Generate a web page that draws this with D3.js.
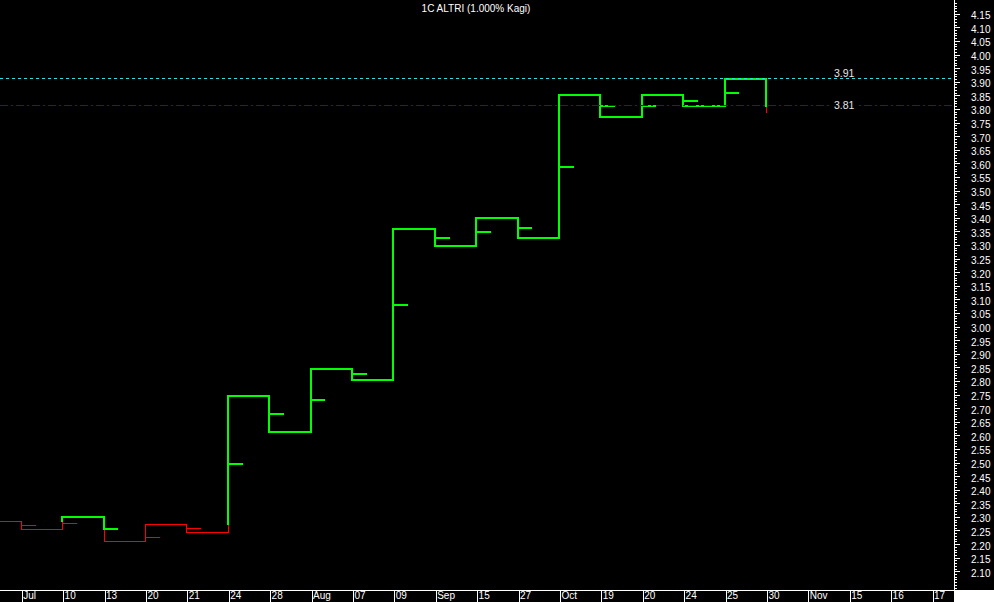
<!DOCTYPE html>
<html>
<head>
<meta charset="utf-8">
<script src="https://cdn.jsdelivr.net/npm/d3@7/dist/d3.min.js"></script>
<style>
  html, body { margin: 0; padding: 0; background: #000; }
  svg { display: block; }
  text { font-family: "Liberation Sans", Arial, sans-serif; }
</style>
</head>
<body>
<script>
// ---------------- data ----------------
const chartTitle = "1C ALTRI (1.000% Kagi)";
const xLabels = ["Jul","10","13","20","21","24","28","Aug","07","09","Sep","15","27","Oct","19","20","24","25","30","Nov","15","16","17"];
const startLevel = 2.281;
const kagiLevels = [2.252, 2.297, 2.208, 2.270, 2.240, 2.742, 2.610, 2.840, 2.800, 3.355, 3.293, 3.396, 3.322, 3.849, 3.768, 3.849, 3.806, 3.906, 3.786];
const kagiStubs  = [2.265, 2.273, 2.252, 2.221, 2.254, 2.491, 2.676, 2.726, 2.822, 3.075, 3.323, 3.345, 3.358, 3.583, 3.808, 3.808, 3.826, 3.856, null];
const yTickLabels = ["2.10","2.15","2.20","2.25","2.30","2.35","2.40","2.45","2.50","2.55","2.60","2.65","2.70","2.75","2.80","2.85","2.90","2.95","3.00","3.05","3.10","3.15","3.20","3.25","3.30","3.35","3.40","3.45","3.50","3.55","3.60","3.65","3.70","3.75","3.80","3.85","3.90","3.95","4.00","4.05","4.10","4.15"];
const refValues = [3.91, 3.81];
const refLabels = ["3.91", "3.81"];

// ---------------- layout ----------------
const W = 994, H = 602;
const axisX = 954, axisY = 590;
const GREEN = "#00ff00", RED = "#ff0000";

const svg = d3.select("body").append("svg")
  .attr("width", W).attr("height", H)
  .style("background", "#000");

const x = d3.scaleLinear().domain([0, xLabels.length - 1]).range([20.7, 931.5]);
const y = d3.scaleLinear().domain([2.10, 4.15]).range([570.3, 12.7]);
const step = x(1) - x(0);

// ---------------- kagi segments ----------------
const segs = [];
const col = s => s === "yang" ? GREEN : RED;
segs.push({x1: x(-0.5), y1: startLevel, x2: x(0), y2: startLevel, c: RED});
let state = "yin";
let prev = startLevel;
kagiLevels.forEach((L, i) => {
  const ref = i >= 2 ? kagiLevels[i - 2] : (i === 1 ? startLevel : null);
  const xi = x(i);
  let split = null;
  if (L > prev) {
    if (state === "yin" && ref !== null && L > ref && ref > prev) {
      segs.push({x1: xi, y1: prev, x2: xi, y2: ref, c: RED});
      segs.push({x1: xi, y1: ref, x2: xi, y2: L, c: GREEN});
      state = "yang"; split = {dir: "up", at: ref};
    } else {
      segs.push({x1: xi, y1: prev, x2: xi, y2: L, c: col(state)});
    }
  } else {
    if (state === "yang" && ref !== null && L < ref && ref < prev) {
      segs.push({x1: xi, y1: prev, x2: xi, y2: ref, c: GREEN});
      segs.push({x1: xi, y1: ref, x2: xi, y2: L, c: RED});
      state = "yin"; split = {dir: "down", at: ref};
    } else {
      segs.push({x1: xi, y1: prev, x2: xi, y2: L, c: col(state)});
    }
  }
  const s = kagiStubs[i];
  if (s !== null) {
    let c = col(state);
    if (split && split.dir === "up") c = s > split.at ? GREEN : RED;
    if (split && split.dir === "down") c = s >= split.at ? GREEN : RED;
    segs.push({x1: xi, y1: s, x2: xi + step / 3, y2: s, c: c});
  }
  if (i < kagiLevels.length - 1) {
    segs.push({x1: xi, y1: L, x2: x(i + 1), y2: L, c: col(state)});
  }
  prev = L;
});

const g = svg.append("g");
g.selectAll("line.red").data(segs.filter(d => d.c === RED)).join("line")
  .attr("class", "red")
  .attr("x1", d => Math.round(d.x1) + 0.5).attr("x2", d => Math.round(d.x2) + 0.5)
  .attr("y1", d => Math.round(y(d.y1)) + 0.5).attr("y2", d => Math.round(y(d.y2)) + 0.5)
  .attr("stroke", RED).attr("stroke-width", 1)
  .attr("stroke-linecap", "square")
  .attr("shape-rendering", "crispEdges");
g.selectAll("line.green").data(segs.filter(d => d.c === GREEN)).join("line")
  .attr("class", "green")
  .attr("x1", d => Math.round(d.x1)).attr("x2", d => Math.round(d.x2))
  .attr("y1", d => Math.round(y(d.y1))).attr("y2", d => Math.round(y(d.y2)))
  .attr("stroke", GREEN).attr("stroke-width", 2)
  .attr("stroke-linecap", "square")
  .attr("shape-rendering", "crispEdges");

// ---------------- reference lines ----------------
const refStyles = [
  {stroke: "#19e6f0", dash: "3,3"},
  {stroke: "#1414c8", dash: "8,3,2,3"}
];
refValues.forEach((v, i) => {
  svg.append("line")
    .attr("x1", 0).attr("x2", axisX)
    .attr("y1", Math.round(y(v)) + 0.5).attr("y2", Math.round(y(v)) + 0.5)
    .attr("stroke", refStyles[i].stroke)
    .attr("stroke-dasharray", refStyles[i].dash)
    .attr("shape-rendering", "crispEdges");
});
// labels
svg.append("text").attr("x", 834).attr("y", y(refValues[0]) - 1)
  .attr("fill", "#e6e6e6").attr("font-size", 10.5).text(refLabels[0]);
svg.append("rect").attr("x", 832).attr("y", y(refValues[1]) - 6).attr("width", 26).attr("height", 11).attr("fill", "#000");
svg.append("text").attr("x", 834).attr("y", y(refValues[1]) + 3.5)
  .attr("fill", "#e6e6e6").attr("font-size", 10.5).text(refLabels[1]);

// ---------------- right axis ----------------
const minorTicks = d3.range(203, 420).map(v => v / 100);
const yAxisMinor = d3.axisRight(y).tickValues(minorTicks).tickSize(3).tickFormat("");
const gm = svg.append("g").attr("transform", `translate(${axisX},0)`).call(yAxisMinor);
gm.select(".domain").remove();
gm.selectAll("line").attr("stroke", "#fff").attr("shape-rendering", "crispEdges")
  .attr("transform", d => `translate(0,${Math.round(y(d)) + 0.5 - y(d)})`);

const yAxisMajor = d3.axisRight(y).tickValues(yTickLabels.map(Number)).tickSize(6)
  .tickFormat((d, i) => yTickLabels[i]).tickPadding(11);
const ga = svg.append("g").attr("transform", `translate(${axisX},0)`).call(yAxisMajor);
ga.select(".domain").remove();
ga.selectAll("line").attr("stroke", "#fff").attr("shape-rendering", "crispEdges")
  .attr("transform", d => `translate(0,${Math.round(y(d)) + 0.5 - y(d)})`);
ga.selectAll("text").attr("fill", "#fff").attr("font-size", 10)
  .attr("font-family", "Liberation Sans, Arial, sans-serif")
  .attr("dy", "0.6em");

svg.append("line").attr("x1", axisX + 0.5).attr("x2", axisX + 0.5)
  .attr("y1", 0).attr("y2", axisY)
  .attr("stroke", "#fff").attr("shape-rendering", "crispEdges");

// ---------------- bottom axis ----------------
const xAxis = d3.axisBottom(x).tickValues(d3.range(xLabels.length))
  .tickSize(12).tickFormat(i => xLabels[i]);
const gx = svg.append("g").attr("transform", `translate(0,${axisY})`).call(xAxis);
gx.select(".domain").remove();
gx.selectAll("line").attr("stroke", "#fff").attr("shape-rendering", "crispEdges")
  .attr("transform", d => `translate(${Math.round(x(d)) + 0.5 - x(d)},0)`);
gx.selectAll("text").attr("fill", "#fff").attr("font-size", 10)
  .attr("font-family", "Liberation Sans, Arial, sans-serif")
  .attr("text-anchor", "start").attr("x", 2).attr("y", 2).attr("dy", "0.71em");

svg.append("line").attr("x1", 0).attr("x2", axisX)
  .attr("y1", axisY + 0.5).attr("y2", axisY + 0.5)
  .attr("stroke", "#fff").attr("shape-rendering", "crispEdges");
svg.append("rect").attr("x", axisX).attr("y", axisY).attr("width", W - axisX).attr("height", H - axisY).attr("fill", "#fff");

// ---------------- title ----------------
svg.append("text").attr("x", 476).attr("y", 12)
  .attr("text-anchor", "middle").attr("fill", "#fff").attr("font-size", 10)
  .text(chartTitle);
</script>
</body>
</html>
